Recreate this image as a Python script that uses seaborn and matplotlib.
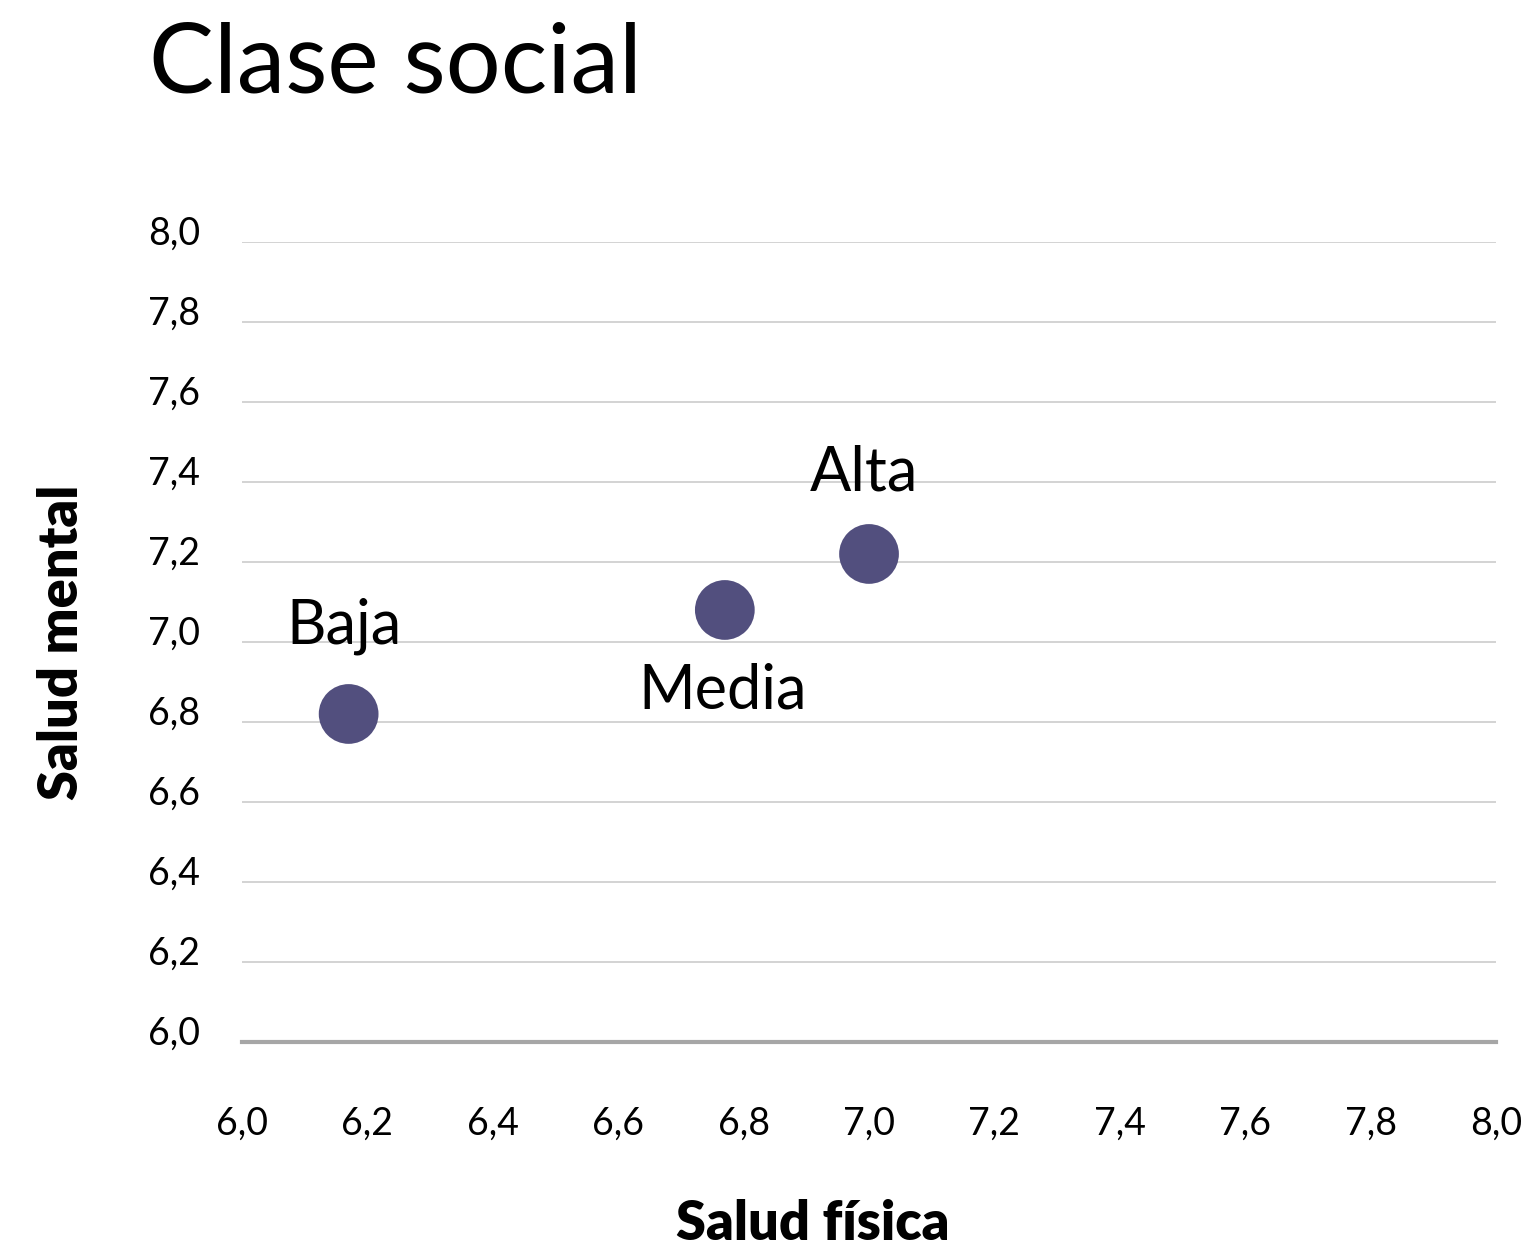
import numpy as np
import pandas as pd
import matplotlib.pyplot as plt
import matplotlib.transforms as mtransforms
import seaborn as sns

# Data
clase = ['Baja', 'Media', 'Alta']
salud_fisica = [6.17, 6.77, 7.00]
salud_mental = [6.82, 7.08, 7.22]
ticks = [6.0, 6.2, 6.4, 6.6, 6.8, 7.0, 7.2, 7.4, 7.6, 7.8, 8.0]
tick_labels = ['6,0', '6,2', '6,4', '6,6', '6,8', '7,0', '7,2', '7,4', '7,6', '7,8', '8,0']

df = pd.DataFrame({'clase': clase, 'fisica': salud_fisica, 'mental': salud_mental})

sns.set_style('white')
plt.rcParams['font.family'] = ['Lato', 'DejaVu Sans']
plt.rcParams['text.color'] = 'black'
plt.rcParams['xtick.color'] = 'black'
plt.rcParams['ytick.color'] = 'black'
plt.rcParams['axes.labelcolor'] = 'black'

fig = plt.figure(figsize=(15.32, 12.53), dpi=100)
ax = fig.add_axes([0.158, 0.1684, 0.8185, 0.6385])

sns.scatterplot(data=df, x='fisica', y='mental', ax=ax, s=1850,
                color='#524f7e', edgecolor='none', zorder=3, legend=False)

ax.set_xlim(6.0, 8.0)
ax.set_ylim(6.0, 8.0)
ax.set_xticks(ticks)
ax.set_xticklabels(tick_labels)
ax.set_yticks(ticks)
ax.set_yticklabels(tick_labels)
ax.tick_params(axis='both', length=0, labelsize=27)
ax.tick_params(axis='x', pad=46)
ax.tick_params(axis='y', pad=30)

# y tick labels sit a bit above their gridlines
shift = mtransforms.ScaledTranslation(0, 0.12, fig.dpi_scale_trans)
for lab in ax.get_yticklabels():
    lab.set_transform(lab.get_transform() + shift)

ax.grid(axis='y', color='#cccccc', lw=1.2)
ax.grid(axis='x', visible=False)
for side in ['top', 'right', 'left']:
    ax.spines[side].set_visible(False)
ax.spines['bottom'].set_color('#a6a6a6')
ax.spines['bottom'].set_linewidth(3)
ax.spines['bottom'].set_zorder(4)

# point labels
offsets = {'Baja': (-3, 63), 'Media': (-1.5, -58), 'Alta': (-3.5, 58)}
for c, xv, yv in zip(clase, salud_fisica, salud_mental):
    ax.annotate(c, (xv, yv), xytext=offsets[c], textcoords='offset points',
                ha='center', va='center', fontsize=44)

ax.set_xlabel('Salud física', fontsize=39, fontweight='heavy')
ax.set_ylabel('Salud mental', fontsize=39, fontweight='heavy')
ax.xaxis.set_label_coords(0.455, -0.196)
ax.yaxis.set_label_coords(-0.124, 0.5)

fig.text(0.097, 0.948, 'Clase social', fontsize=70, ha='left', va='center')

plt.savefig('out.png', dpi=100)
